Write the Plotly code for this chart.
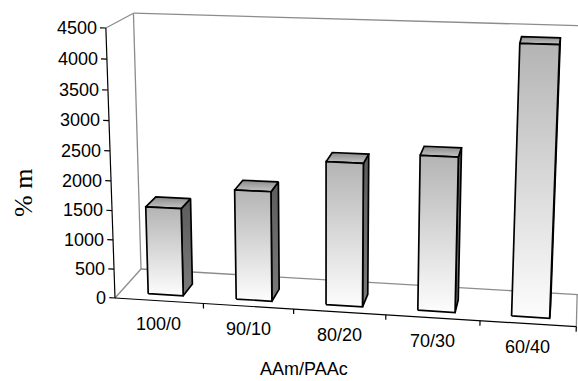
import plotly.graph_objects as go

# ---------------- data ----------------
CATEGORIES = ["100/0", "90/10", "80/20", "70/30", "60/40"]
VALUES = [1500, 1860, 2400, 2570, 4400]
Y_TICKS = [0, 500, 1000, 1500, 2000, 2500, 3000, 3500, 4000, 4500]
Y_TICK_LABELS = ["0", "500", "1000", "1500", "2000", "2500", "3000", "3500", "4000", "4500"]
X_TITLE = "AAm/PAAc"
Y_TITLE = "% m"
Z_MAX = 4500

# ---------------- 3-D perspective "camera" (styling) ----------------
W, H = 578, 381
ORIGIN = (115.0, 298.0)          # front-left-bottom corner of the chart box
VP_X = (-8253.0, -222.0)         # vanishing points (screen space)
VP_Y = (590.5, -232.0)
VP_Z = (325.0, 6500.0)
LAM_X, LAM_Y, LAM_Z = -0.01045, 0.05784, -9.2707e-6
BAR_X0, BAR_X1 = 0.32, 0.72      # bar extent inside its category slot
BAR_Y0, BAR_Y1 = 0.20, 0.60      # bar depth extent
N = len(CATEGORIES)


def proj(X, Y, Z):
    w = 1 + LAM_X * X + LAM_Y * Y + LAM_Z * Z
    px = (ORIGIN[0] + LAM_X * X * VP_X[0] + LAM_Y * Y * VP_Y[0] + LAM_Z * Z * VP_Z[0]) / w
    py = (ORIGIN[1] + LAM_X * X * VP_X[1] + LAM_Y * Y * VP_Y[1] + LAM_Z * Z * VP_Z[1]) / w
    return px, py


def line_trace(pts, color, width):
    xs, ys = zip(*[proj(*p) for p in pts])
    return go.Scatter(x=list(xs), y=list(ys), mode="lines",
                      line=dict(color=color, width=width),
                      hoverinfo="skip", showlegend=False)


def face_trace(pts, colorscale):
    pp = [proj(*p) for p in pts]
    pp.append(pp[0])
    xs, ys = zip(*pp)
    return go.Scatter(x=list(xs), y=list(ys), mode="lines", fill="toself",
                      fillgradient=dict(type="vertical", colorscale=colorscale,
                                        start=min(ys), stop=max(ys)),
                      line=dict(color="black", width=1.7),
                      hoverinfo="skip", showlegend=False)


fig = go.Figure()

# ---- walls / floor edges (gray) ----
GRAY = "#8c8c8c"
for seg in [
    [(0, 1, 0), (0, 1, Z_MAX)],
    [(0, 1, Z_MAX), (N + 0.3, 1, Z_MAX)],
    [(0, 1, 0), (N + 0.3, 1, 0)],
    [(0, 0, Z_MAX), (0, 1, Z_MAX)],
    [(0, 0, 0), (0, 1, 0)],
    [(N, 0, 0), (N, 1, 0)],
]:
    fig.add_trace(line_trace(seg, GRAY, 1.3))

# ---- bars ----
FRONT_CS = [[0, "#b4b4b4"], [0.5, "#d9d9d9"], [1, "#fdfdfd"]]
TOP_CS = [[0, "#8a8a8a"], [1, "#c6c6c6"]]
SIDE_CS = [[0, "#5c5c5c"], [1, "#7a7a7a"]]
for i, v in enumerate(VALUES):
    x0, x1 = i + BAR_X0, i + BAR_X1
    fig.add_trace(face_trace([(x1, BAR_Y0, 0), (x1, BAR_Y1, 0), (x1, BAR_Y1, v), (x1, BAR_Y0, v)], SIDE_CS))
    fig.add_trace(face_trace([(x0, BAR_Y0, v), (x1, BAR_Y0, v), (x1, BAR_Y1, v), (x0, BAR_Y1, v)], TOP_CS))
    fig.add_trace(face_trace([(x0, BAR_Y0, 0), (x1, BAR_Y0, 0), (x1, BAR_Y0, v), (x0, BAR_Y0, v)], FRONT_CS))

# ---- axes (black) ----
fig.add_trace(line_trace([(0, 0, 0), (0, 0, Z_MAX)], "black", 1.2))
fig.add_trace(line_trace([(0, 0, 0), (N, 0, 0)], "black", 1.2))
for t in Y_TICKS:
    fig.add_trace(line_trace([(0, 0, t), (-0.065, 0, t)], "black", 1.2))
for k in range(1, N + 1):
    fig.add_trace(line_trace([(k, 0, 0), (k, 0, -85)], "black", 1.2))

annotations = []
FONT = dict(family="Liberation Sans, Arial, sans-serif", size=18, color="black")
for t, lab in zip(Y_TICKS, Y_TICK_LABELS):
    px, py = proj(-0.065, 0, t)
    annotations.append(dict(x=px, y=py, text=lab, showarrow=False, xanchor="right",
                            yanchor="middle", xshift=-1, font=FONT))
for i, lab in enumerate(CATEGORIES):
    px, py = proj(i + 0.5, 0, 0)
    annotations.append(dict(x=px, y=py + 23, text=lab, showarrow=False, xanchor="center",
                            yanchor="middle", font=FONT))
annotations.append(dict(x=304, y=369, text=X_TITLE, showarrow=False, xanchor="center",
                        yanchor="middle", font=FONT))
annotations.append(dict(x=23, y=193, text=Y_TITLE, showarrow=False, xanchor="center",
                        yanchor="middle", textangle=-90,
                        font=dict(family="Liberation Serif, Times New Roman, serif",
                                  size=26, color="black")))

fig.update_layout(
    width=W, height=H, autosize=False,
    margin=dict(l=0, r=0, t=0, b=0, pad=0),
    paper_bgcolor="white", plot_bgcolor="white",
    xaxis=dict(range=[0, W], visible=False, fixedrange=True),
    yaxis=dict(range=[H, 0], visible=False, fixedrange=True),
    annotations=annotations,
    showlegend=False,
)

fig.write_html("out.html")
